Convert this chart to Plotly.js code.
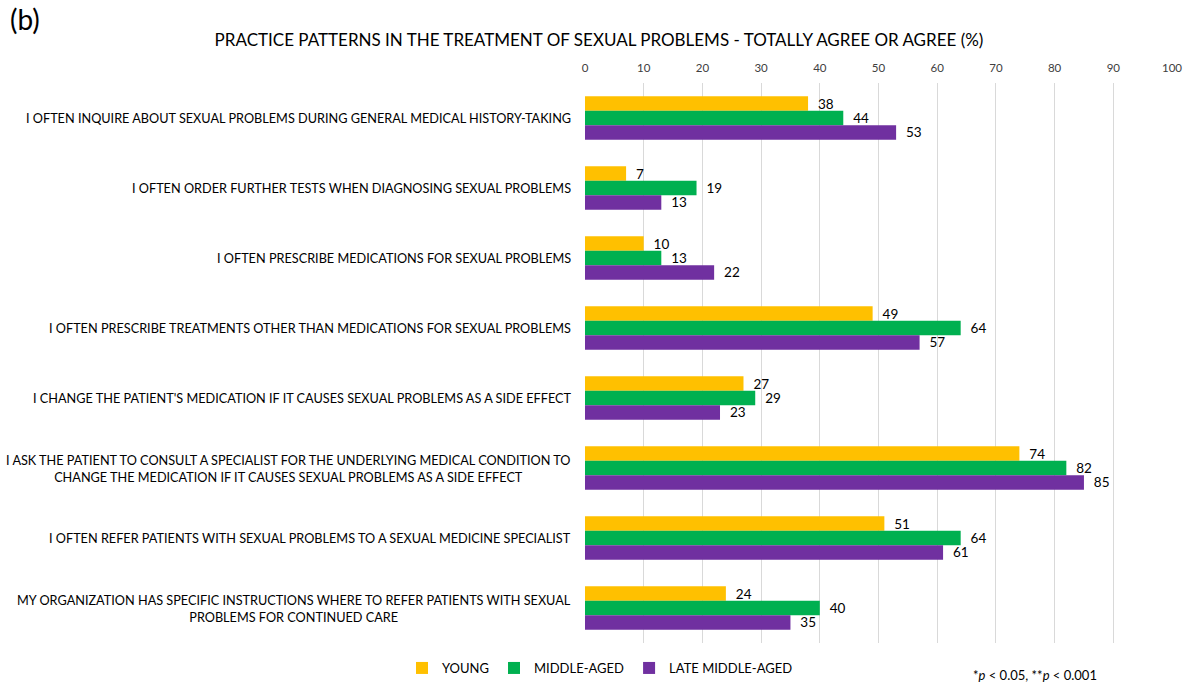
<!DOCTYPE html>
<html><head><meta charset="utf-8">
<script src="https://cdn.plot.ly/plotly-3.0.1.min.js"></script>
<style>body{margin:0;background:#fff}#c{width:1192px;height:685px}</style>
</head><body><div id="c"></div>
<script>
const categories = [
  "I OFTEN INQUIRE ABOUT SEXUAL PROBLEMS DURING GENERAL MEDICAL HISTORY-TAKING",
  "I OFTEN ORDER FURTHER TESTS WHEN DIAGNOSING SEXUAL PROBLEMS",
  "I OFTEN PRESCRIBE MEDICATIONS FOR SEXUAL PROBLEMS",
  "I OFTEN PRESCRIBE TREATMENTS OTHER THAN MEDICATIONS FOR SEXUAL PROBLEMS",
  "I CHANGE THE PATIENT'S MEDICATION IF IT CAUSES SEXUAL PROBLEMS AS A SIDE EFFECT",
  "I ASK THE PATIENT TO CONSULT A SPECIALIST FOR THE UNDERLYING MEDICAL CONDITION TO<br>CHANGE THE MEDICATION IF IT CAUSES SEXUAL PROBLEMS AS A SIDE EFFECT",
  "I OFTEN REFER PATIENTS WITH SEXUAL PROBLEMS TO A SEXUAL MEDICINE SPECIALIST",
  "MY ORGANIZATION HAS SPECIFIC INSTRUCTIONS WHERE TO REFER PATIENTS WITH SEXUAL<br>PROBLEMS FOR CONTINUED CARE"
];
const young = [38, 7, 10, 49, 27, 74, 51, 24];
const middleAged = [44, 19, 13, 64, 29, 82, 64, 40];
const lateMiddleAged = [53, 13, 22, 57, 23, 85, 61, 35];
const seriesNames = ["YOUNG", "MIDDLE-AGED", "LATE MIDDLE-AGED"];
const xTicks = [0,10,20,30,40,50,60,70,80,90,100];

const FONT = "Lato, 'Open Sans', sans-serif";
const colors = ["#FFC000", "#00B050", "#7030A0"];
const ids = categories.map((c, i) => "c" + i);
const allSeries = [young, middleAged, lateMiddleAged];

const traces = allSeries.map((vals, k) => ({
  type: "bar", orientation: "h",
  y: ids, x: vals, name: seriesNames[k],
  marker: {color: colors[k]},
  texttemplate: "  %{x}", textposition: "outside", constraintext: "none",
  textfont: {family: FONT, size: 13.5, color: "#000"},
  cliponaxis: false,
  hoverinfo: "x+name"
}));

const annotations = categories.map((c, i) => ({
  xref: "paper", yref: "y", x: 0, y: ids[i], xanchor: "right", xshift: -12,
  text: c, showarrow: false, align: "center",
  font: {family: FONT, size: 12.7, color: "#000"}
}));
annotations.push({
  xref: "paper", yref: "paper", x: -577/587, y: 1 + 83/560, xanchor: "left", yanchor: "top",
  text: "(b)", showarrow: false, font: {family: FONT, size: 28, color: "#000"}
});
annotations.push({
  xref: "paper", yref: "paper", x: (1035-585)/587, y: -(675-643)/560, xanchor: "center", yanchor: "middle",
  text: "*<i>p</i> < 0.05, **<i>p</i> < 0.001", showarrow: false, font: {family: FONT, size: 13, color: "#000"}
});

const layout = {
  width: 1192, height: 685,
  margin: {l: 585, r: 20, t: 83, b: 42, autoexpand: false},
  paper_bgcolor: "#fff", plot_bgcolor: "#fff",
  title: {text: "PRACTICE PATTERNS IN THE TREATMENT OF SEXUAL PROBLEMS - TOTALLY AGREE OR AGREE (%)",
    x: 599/1192, xanchor: "center", y: 1 - 40/685, yanchor: "middle",
    font: {family: FONT, size: 17, color: "#000"}},
  barmode: "group", bargap: 0.38, bargroupgap: 0,
  xaxis: {side: "top", range: [0, 100], tickvals: xTicks, showgrid: true, gridcolor: "#d9d9d9",
    zeroline: false, showline: false, ticks: "", ticklen: 0, ticklabelstandoff: 8,
    tickfont: {family: FONT, size: 11.5, color: "#404040"}, fixedrange: true, automargin: false},
  yaxis: {type: "category", categoryorder: "array", categoryarray: ids, autorange: "reversed",
    showticklabels: false, showgrid: false, zeroline: false, showline: false, ticks: "", automargin: false},
  showlegend: true,
  legend: {orientation: "h", x: (600-585)/587, xanchor: "center",
    y: -(668-643)/560, yanchor: "middle", traceorder: "normal",
    font: {family: FONT, size: 13, color: "#000"}, itemwidth: 30},
  annotations: annotations,
  font: {family: FONT}
};
Plotly.newPlot("c", traces, layout, {displayModeBar: false, staticPlot: true});
</script></body></html>
